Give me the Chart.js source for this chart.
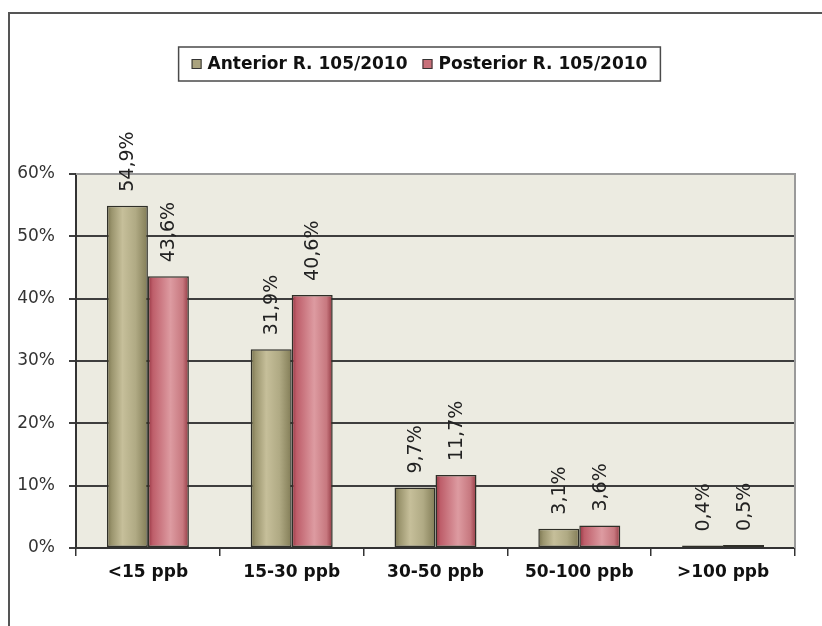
<!DOCTYPE html>
<html>
<head>
<meta charset="utf-8">
<script src="https://cdn.jsdelivr.net/npm/chart.js@4.4.0/dist/chart.umd.min.js"></script>
<style>
  html, body { margin: 0; padding: 0; background: #ffffff; }
  canvas { display: block; }
</style>
</head>
<body>
<canvas id="chart" width="822" height="626"></canvas>
<script>
// Arsenic concentration ranges and share of samples in each range
const categories = ['<15 ppb', '15-30 ppb', '30-50 ppb', '50-100 ppb', '>100 ppb'];
const seriesNames = ['Anterior R. 105/2010', 'Posterior R. 105/2010'];
const anteriorValues = [54.9, 31.9, 9.7, 3.1, 0.4];
const posteriorValues = [43.6, 40.6, 11.7, 3.6, 0.5];
const yTickValues = [0, 10, 20, 30, 40, 50, 60];

const FONT = 'DejaVu Sans';
const flatColors = ['#aaa37e', '#c9707a'];
const gradientStops = [
  [[0, '#78724d'], [0.12, '#9b956e'], [0.38, '#c6bf9a'], [0.7, '#b0aa84'], [1, '#827c56']],
  [[0, '#943340'], [0.12, '#be5e6a'], [0.55, '#dd9ba1'], [0.85, '#c7787f'], [1, '#933842']]
];

const fmtPct = v => v.toFixed(1).replace('.', ',') + '%';

// Page frame, plot background and the grey plot edges
const backdrop = {
  id: 'backdrop',
  beforeDraw(chart) {
    const { ctx, chartArea: a } = chart;
    ctx.save();
    ctx.fillStyle = '#ffffff';
    ctx.fillRect(0, 0, chart.width, chart.height);
    ctx.strokeStyle = '#555555';
    ctx.lineWidth = 2;
    ctx.beginPath();
    ctx.moveTo(chart.width, 13);
    ctx.lineTo(9, 13);
    ctx.lineTo(9, chart.height);
    ctx.stroke();
    ctx.fillStyle = '#ecebe1';
    ctx.fillRect(a.left, a.top, a.right - a.left, a.bottom - a.top);
    ctx.restore();
  },
  beforeDatasetsDraw(chart) {
    const { ctx, chartArea: a } = chart;
    ctx.save();
    ctx.strokeStyle = '#9a9a9a';
    ctx.lineWidth = 2;
    ctx.beginPath();
    ctx.moveTo(a.left, a.top);
    ctx.lineTo(a.right, a.top);
    ctx.lineTo(a.right, a.bottom);
    ctx.stroke();
    ctx.restore();
  }
};

// Cylinder-like horizontal shading for each bar
const barShading = {
  id: 'barShading',
  beforeDatasetsDraw(chart) {
    const ctx = chart.ctx;
    chart.data.datasets.forEach((ds, di) => {
      chart.getDatasetMeta(di).data.forEach(bar => {
        const { x, width } = bar.getProps(['x', 'width'], true);
        const g = ctx.createLinearGradient(x - width / 2, 0, x + width / 2, 0);
        gradientStops[di].forEach(([o, c]) => g.addColorStop(o, c));
        bar.options = Object.assign({}, bar.options, { backgroundColor: g });
      });
    });
  }
};

// Vertical value labels above the bars
const valueLabels = {
  id: 'valueLabels',
  afterDatasetsDraw(chart) {
    const ctx = chart.ctx;
    ctx.save();
    ctx.font = '19px "' + FONT + '"';
    ctx.fillStyle = '#222222';
    ctx.textAlign = 'left';
    ctx.textBaseline = 'middle';
    chart.data.datasets.forEach((ds, di) => {
      chart.getDatasetMeta(di).data.forEach((bar, i) => {
        const { x, y } = bar.getProps(['x', 'y'], true);
        ctx.save();
        ctx.translate(x + 1, y - 14);
        ctx.rotate(-Math.PI / 2);
        ctx.fillText(fmtPct(ds.data[i]), 0, 0);
        ctx.restore();
      });
    });
    ctx.restore();
  }
};

// Boxed legend centred above the plot
const boxedLegend = {
  id: 'boxedLegend',
  afterDraw(chart) {
    const ctx = chart.ctx;
    ctx.save();
    ctx.font = 'bold 17px "' + FONT + '"';
    const sq = 10, gapText = 6, gapItem = 15, pad = 13;
    const widths = chart.data.datasets.map(d => ctx.measureText(d.label).width);
    const content = widths.reduce((s, w) => s + sq + gapText + w, 0) + gapItem * (widths.length - 1);
    const boxW = content + pad * 2, boxH = 34;
    const cx = 419.5, top = 47;
    const left = cx - boxW / 2;
    ctx.fillStyle = '#ffffff';
    ctx.fillRect(left, top, boxW, boxH);
    ctx.strokeStyle = '#4a4a4a';
    ctx.lineWidth = 1.5;
    ctx.strokeRect(left, top, boxW, boxH);
    let x = left + pad;
    const cy = top + boxH / 2;
    chart.data.datasets.forEach((d, i) => {
      ctx.fillStyle = flatColors[i];
      ctx.fillRect(x, cy - sq / 2, sq, sq);
      ctx.strokeStyle = '#333333';
      ctx.lineWidth = 1;
      ctx.strokeRect(x + 0.5, cy - sq / 2 + 0.5, sq - 1, sq - 1);
      x += sq + gapText;
      ctx.fillStyle = '#111111';
      ctx.textAlign = 'left';
      ctx.textBaseline = 'middle';
      ctx.fillText(d.label, x, cy + 1);
      x += widths[i] + gapItem;
    });
    ctx.restore();
  }
};

new Chart(document.getElementById('chart'), {
  type: 'bar',
  data: {
    labels: categories,
    datasets: [
      { label: seriesNames[0], data: anteriorValues, backgroundColor: flatColors[0] },
      { label: seriesNames[1], data: posteriorValues, backgroundColor: flatColors[1] }
    ]
  },
  options: {
    responsive: false,
    maintainAspectRatio: false,
    animation: false,
    events: [],
    layout: { padding: { left: 0, right: 27, top: 174, bottom: 0 } },
    datasets: {
      bar: {
        categoryPercentage: 0.57,
        barPercentage: 1.0,
        borderColor: '#2f2f28',
        borderWidth: 1.5,
        borderSkipped: false
      }
    },
    plugins: {
      legend: { display: false },
      tooltip: { enabled: false }
    },
    scales: {
      x: {
        offset: true,
        afterFit(scale) { scale.height = 78; },
        grid: { display: true, drawOnChartArea: false, drawTicks: true, tickLength: 8, color: '#333333', lineWidth: 1.5 },
        border: { display: true, color: '#333333', width: 2 },
        ticks: { color: '#111111', padding: 6, font: { family: FONT, size: 17, weight: 'bold' } }
      },
      y: {
        min: 0,
        max: 60,
        afterFit(scale) { scale.width = 76; },
        afterBuildTicks(scale) { scale.ticks = yTickValues.map(v => ({ value: v })); },
        grid: {
          color: c => (c.tick && c.tick.value === 60 ? '#9a9a9a' : '#3e3e3e'),
          tickColor: '#3e3e3e',
          lineWidth: 2,
          tickLength: 7
        },
        border: { display: true, color: '#333333', width: 2 },
        ticks: {
          color: '#333333',
          padding: 14,
          font: { family: FONT, size: 17 },
          callback: v => v + '%'
        }
      }
    }
  },
  plugins: [backdrop, barShading, valueLabels, boxedLegend]
});
</script>
</body>
</html>
